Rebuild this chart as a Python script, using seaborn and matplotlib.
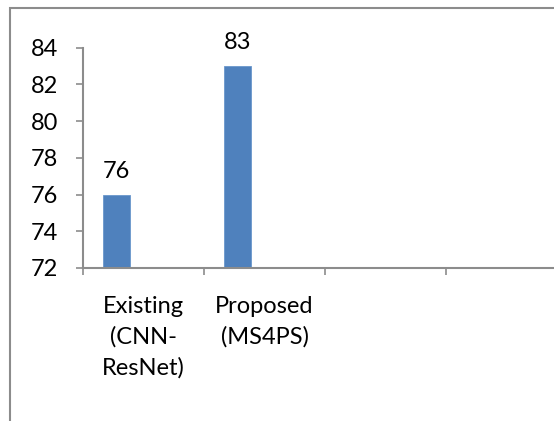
import matplotlib
matplotlib.use("Agg")
import matplotlib.pyplot as plt
from matplotlib.patches import Rectangle
import seaborn as sns
import pandas as pd

categories = ["Existing\n(CNN-\nResNet)", "Proposed\n(MS4PS)", " ", "  "]
series_names = ["Series 1", "Series 2", "Series 3"]
values = [76, 83]
y_ticks = [72, 74, 76, 78, 80, 82, 84]

df = pd.DataFrame({
    "method": categories[:len(values)],
    "series": [series_names[0]] * len(values),
    "score": values,
})

sns.set_theme(style="white")
plt.rcParams["font.family"] = ["Lato", "DejaVu Sans"]

FS = 17
TXT = "#000000"
W, H = 554, 421
fig = plt.figure(figsize=(W / 100, H / 100), dpi=100)
ax = fig.add_axes([83 / W, 1 - 268 / H, 1 - 83 / W, (268 - 47.5) / H])

sns.barplot(data=df, x="method", y="score", hue="series",
            order=categories, hue_order=series_names,
            palette=["#4F81BD", "#C0504D", "#9BBB59"], saturation=1,
            width=3 / 4.5, dodge=True, legend=False, ax=ax,
            edgecolor="#6A97CC", linewidth=0.6)

ax.set_ylim(72, 84)
ax.set_yticks(y_ticks)
ax.set_xlim(-0.5, -0.5 + (W - 83) / 121)

# Category boundaries carry the tick marks; labels sit at category centres
ax.set_xticks([-0.5, 0.5, 1.5, 2.5])
ax.set_xticklabels([])
ax.set_xticks(range(len(categories)), labels=categories, minor=True)
ax.tick_params(axis="x", which="major", length=5, width=1.2, color="#8C8C8C",
               direction="out", bottom=True)
ax.tick_params(axis="x", which="minor", length=0, pad=20, labelsize=FS,
               labelcolor=TXT)
ax.tick_params(axis="y", length=5, width=1.2, color="#8C8C8C", direction="out",
               left=True, pad=13, labelsize=FS, labelcolor=TXT)
for lbl in ax.get_xticklabels(minor=True):
    lbl.set_linespacing(1.55)

ax.set_xlabel("")
ax.set_ylabel("")
for side in ("top", "right"):
    ax.spines[side].set_visible(False)
for side in ("left", "bottom"):
    ax.spines[side].set_color("#8C8C8C")
    ax.spines[side].set_linewidth(1.5)

ax.bar_label(ax.containers[0], labels=[str(v) for v in values],
             padding=9, fontsize=FS, color=TXT)

# Chart-area border
fig.patches.append(Rectangle((10 / W, -0.1), 1.2, 1 - 8 / H + 0.1,
                             transform=fig.transFigure, fill=False,
                             edgecolor="#8C8C8C", linewidth=1.5))

fig.savefig("out.png", dpi=100)
